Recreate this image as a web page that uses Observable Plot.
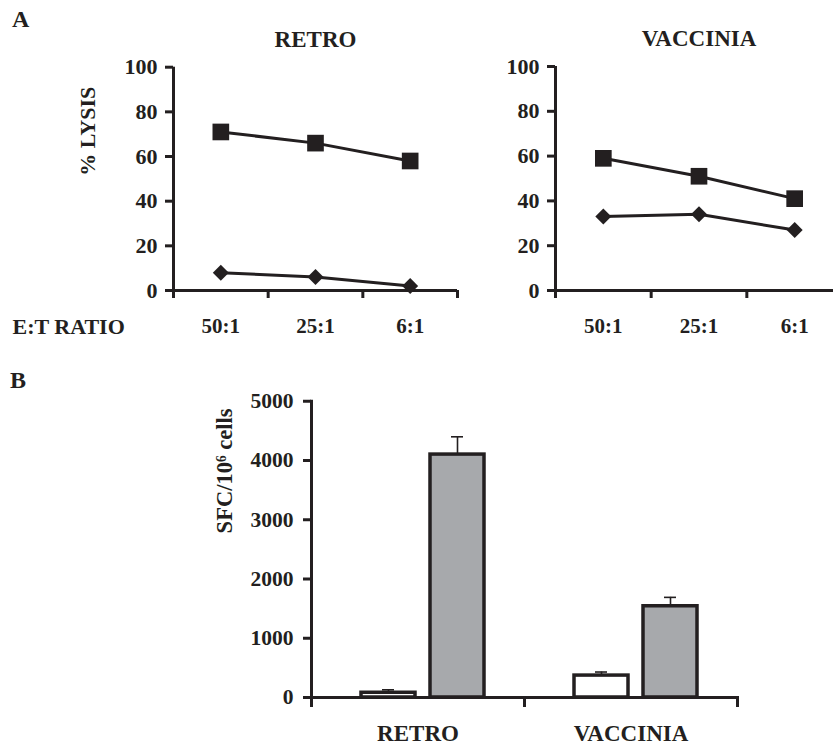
<!DOCTYPE html>
<html>
<head>
<meta charset="utf-8">
<script src="https://cdn.jsdelivr.net/npm/d3@7"></script>
<script src="https://cdn.jsdelivr.net/npm/@observablehq/plot@0.6"></script>
<style>
html, body { margin: 0; padding: 0; background: #fff; }
#fig { position: relative; width: 833px; height: 745px; overflow: hidden; background: #fff;
  font-family: 'Liberation Serif', 'Times New Roman', serif; font-weight: bold; color: #231f20; }
.letter { position: absolute; font-size: 24px; line-height: 1; }
</style>
</head>
<body>
<div id="fig">
  <div class="letter" style="left:12px; top:6.9px;">A</div>
  <div class="letter" style="left:10px; top:367.9px;">B</div>
</div>
<script>
// ---- Panel A data (% lysis by E:T ratio) ----
const ratios = ["50:1", "25:1", "6:1"];
const retroSquares = [71, 66, 58];
const retroDiamonds = [8, 6, 2];
const vacciniaSquares = [59, 51, 41];
const vacciniaDiamonds = [33, 34, 27];
const lysisTicks = [0, 20, 40, 60, 80, 100];

// ---- Panel B data (SFC per 10^6 cells) ----
const groups = ["RETRO", "VACCINIA"];
const conditions = ["open", "filled"];
const sfcOpen = [80, 370];
const sfcFilled = [4100, 1540];
const errOpen = [50, 60];
const errFilled = [300, 150];
const sfcTicks = [0, 1000, 2000, 3000, 4000, 5000];

const INK = "#231f20";
const GRAY = "#a7a9ac";
const fig = document.getElementById("fig");
function place(node, left, top) {
  node.style.position = "absolute";
  node.style.left = left + "px";
  node.style.top = top + "px";
  fig.appendChild(node);
}
const baseStyle = {
  fontFamily: "'Liberation Serif', 'Times New Roman', serif",
  fontWeight: "bold",
  fontSize: "21px",
  color: INK,
  background: "transparent",
  overflow: "visible"
};

function lysisPanel({title, squares, diamonds, width, marginLeft, marginTop, ratioLabel}) {
  const rows = ratios.flatMap((ratio, i) => [
    {ratio, pos: i + 0.5, series: "square", value: squares[i]},
    {ratio, pos: i + 0.5, series: "diamond", value: diamonds[i]}
  ]);
  const marks = [
    Plot.ruleY([0], {stroke: INK, strokeWidth: 3}),
    Plot.ruleX([0], {stroke: INK, strokeWidth: 3}),
    Plot.axisY({ticks: lysisTicks, tickSize: 8, tickPadding: 8, strokeWidth: 3, fontSize: 22, label: null}),
    Plot.axisX({ticks: d3.range(ratios.length + 1), tickSize: 8, tickFormat: () => "", strokeWidth: 3, label: null}),
    Plot.axisX({ticks: ratios.map((_, i) => i + 0.5), tickSize: 0, tickPadding: 28,
      tickFormat: d => ratios[Math.floor(d)], fontSize: 21, label: null}),
    Plot.line(rows, {x: "pos", y: "value", z: "series", stroke: INK, strokeWidth: 3}),
    Plot.dot(rows.filter(d => d.series === "square"), {x: "pos", y: "value", symbol: "square", r: 9.4, fill: INK, stroke: "none"}),
    Plot.dot(rows.filter(d => d.series === "diamond"), {x: "pos", y: "value", symbol: "diamond2", r: 7.2, fill: INK, stroke: "none"}),
    Plot.text([title], {frameAnchor: "top", dy: -28, fontSize: 23, lineAnchor: "middle"})
  ];
  if (ratioLabel) {
    marks.push(
      Plot.text(["% LYSIS"], {frameAnchor: "left", rotate: -90, dx: -86, dy: -3, fontSize: 22, lineAnchor: "middle"}),
      Plot.text(["E:T RATIO"], {frameAnchor: "bottom-left", textAnchor: "start", lineAnchor: "top", dx: -161, dy: 28, fontSize: 22})
    );
  }
  return Plot.plot({
    width, height: 345,
    marginLeft, marginRight: 3, marginTop, marginBottom: 55,
    x: {domain: [0, ratios.length], axis: null},
    y: {domain: [0, 100], axis: null},
    style: baseStyle,
    marks
  });
}

place(lysisPanel({title: "RETRO", squares: retroSquares, diamonds: retroDiamonds,
  width: 460, marginLeft: 173, marginTop: 66.7, ratioLabel: true}), 0, 0);
place(lysisPanel({title: "VACCINIA", squares: vacciniaSquares, diamonds: vacciniaDiamonds,
  width: 445, marginLeft: 155, marginTop: 66, ratioLabel: false}), 400, 0);

// ---- Panel B ----
const sfcRows = groups.flatMap((group, g) => [
  {group, condition: conditions[0], value: sfcOpen[g], err: errOpen[g]},
  {group, condition: conditions[1], value: sfcFilled[g], err: errFilled[g]}
]);
const bTop = 30.75, bFrameH = 296.25;
const panelB = Plot.plot({
  width: 745, height: 375,
  marginLeft: 311, marginRight: 8, marginTop: bTop, marginBottom: 48,
  fx: {domain: groups, padding: 0, label: null},
  x: {domain: conditions, paddingInner: 0.218, paddingOuter: 0.637, align: 0.55, axis: null},
  y: {domain: [0, 5000]},
  color: {domain: conditions, range: ["white", GRAY]},
  style: baseStyle,
  marks: [
    Plot.ruleX(sfcRows, {fx: "group", x: "condition", y1: "value", y2: d => d.value + d.err, stroke: INK, strokeWidth: 1.6}),
    Plot.tickY(sfcRows, {fx: "group", x: "condition", y: d => d.value + d.err, stroke: INK, strokeWidth: 1.6, insetLeft: 21, insetRight: 21}),
    Plot.barY(sfcRows, {fx: "group", x: "condition", y: "value", fill: "condition", stroke: INK, strokeWidth: 3.5}),
    Plot.ruleY([0], {stroke: INK, strokeWidth: 3}),
    Plot.frame({anchor: "left", facetAnchor: "left", stroke: INK, strokeWidth: 3}),
    Plot.frame({anchor: "left", insetTop: bFrameH, insetBottom: -8, stroke: INK, strokeWidth: 3}),
    Plot.frame({anchor: "right", insetTop: bFrameH, insetBottom: -8, facetAnchor: "right", stroke: INK, strokeWidth: 3}),
    Plot.axisY({ticks: sfcTicks, tickSize: 8, tickPadding: 10, strokeWidth: 3, fontSize: 21.5, tickFormat: d => String(d), label: null}),
    Plot.axisFx({anchor: "bottom", tickSize: 0, tickPadding: 27, fontSize: 23, label: null}),
    Plot.text(["SFC/10\u2076 cells"], {frameAnchor: "left", facetAnchor: "left", rotate: -90, dx: -87, dy: -16, fontSize: 22.5, lineAnchor: "middle"})
  ]
});
place(panelB, 0, 370);
</script>
</body>
</html>
